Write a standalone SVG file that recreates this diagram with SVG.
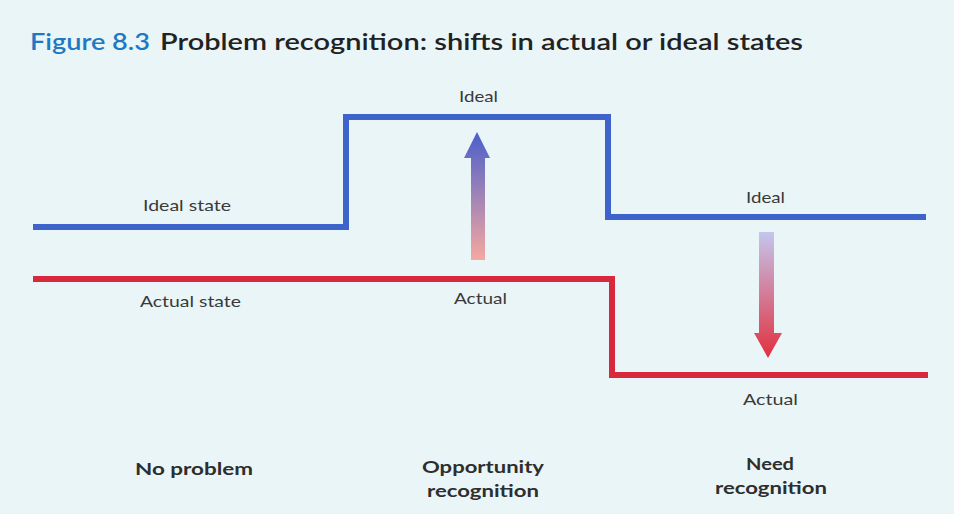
<svg xmlns="http://www.w3.org/2000/svg" width="954" height="514" viewBox="0 0 954 514">
  <defs>
    <linearGradient id="gradUp" x1="0" y1="0" x2="0" y2="1">
      <stop offset="0" stop-color="#4a5fcc"/>
      <stop offset="1" stop-color="#f6a8a0"/>
    </linearGradient>
    <linearGradient id="gradDown" x1="0" y1="0" x2="0" y2="1">
      <stop offset="0" stop-color="#c4c6ee"/>
      <stop offset="1" stop-color="#e2303e"/>
    </linearGradient>
  </defs>
  <style>
    .lbl { font-family: Lato, "Open Sans", "Liberation Sans", sans-serif; font-size: 16px; fill: #3a3a3a; }
    .cap { font-family: Lato, "Open Sans", "Liberation Sans", sans-serif; font-size: 17px; font-weight: bold; fill: #2e2e2e; text-anchor: middle; }
    .ideal { fill: none; stroke: #3f63cc; stroke-width: 6; }
    .actual { fill: none; stroke: #d8283c; stroke-width: 6; }
  </style>

  <!-- page background -->
  <rect width="954" height="514" fill="#e9f5f7"/>

  <!-- title -->
  <g id="title">
    <text x="30" y="50" font-family="Lato, 'Open Sans', 'Liberation Sans', sans-serif" font-size="22" font-weight="600" fill="#1f79c2" textLength="120" lengthAdjust="spacingAndGlyphs">Figure 8.3</text>
    <text x="160" y="50" font-family="Lato, 'Open Sans', 'Liberation Sans', sans-serif" font-size="22" font-weight="600" fill="#222" textLength="643" lengthAdjust="spacingAndGlyphs">Problem recognition: shifts in actual or ideal states</text>
  </g>

  <!-- state lines -->
  <g id="connectors">
    <polyline id="ideal-line" class="ideal" points="33,227 346,227 346,117 608,117 608,217 926,217"/>
    <polyline id="actual-line" class="actual" points="33,279 612,279 612,375 928,375"/>
    <path id="arrow-up" d="M471,260 L471,158 L464,158 L477,132 L490,158 L485,158 L485,260 Z" fill="url(#gradUp)"/>
    <path id="arrow-down" d="M759,232 L774,232 L774,333 L782,333 L768,358 L754,333 L759,333 Z" fill="url(#gradDown)"/>
  </g>

  <!-- line labels -->
  <g id="label-ideal-state"><text class="lbl" x="143" y="211" textLength="88" lengthAdjust="spacingAndGlyphs">Ideal state</text></g>
  <g id="label-actual-state"><text class="lbl" x="140" y="307" textLength="101" lengthAdjust="spacingAndGlyphs">Actual state</text></g>
  <g id="label-ideal-mid"><text class="lbl" x="459" y="102" textLength="39" lengthAdjust="spacingAndGlyphs">Ideal</text></g>
  <g id="label-actual-mid"><text class="lbl" x="454" y="304" textLength="53" lengthAdjust="spacingAndGlyphs">Actual</text></g>
  <g id="label-ideal-right"><text class="lbl" x="746" y="203" textLength="39" lengthAdjust="spacingAndGlyphs">Ideal</text></g>
  <g id="label-actual-right"><text class="lbl" x="743" y="405" textLength="55" lengthAdjust="spacingAndGlyphs">Actual</text></g>

  <!-- captions -->
  <g id="caption-no-problem"><text class="cap" x="194" y="475" textLength="118" lengthAdjust="spacingAndGlyphs">No problem</text></g>
  <g id="caption-opportunity">
    <text class="cap" x="483" y="473" textLength="122" lengthAdjust="spacingAndGlyphs">Opportunity</text>
    <text class="cap" x="483" y="497" textLength="112" lengthAdjust="spacingAndGlyphs">recognition</text>
  </g>
  <g id="caption-need">
    <text class="cap" x="770" y="470" textLength="48" lengthAdjust="spacingAndGlyphs">Need</text>
    <text class="cap" x="771" y="494" textLength="112" lengthAdjust="spacingAndGlyphs">recognition</text>
  </g>
</svg>
